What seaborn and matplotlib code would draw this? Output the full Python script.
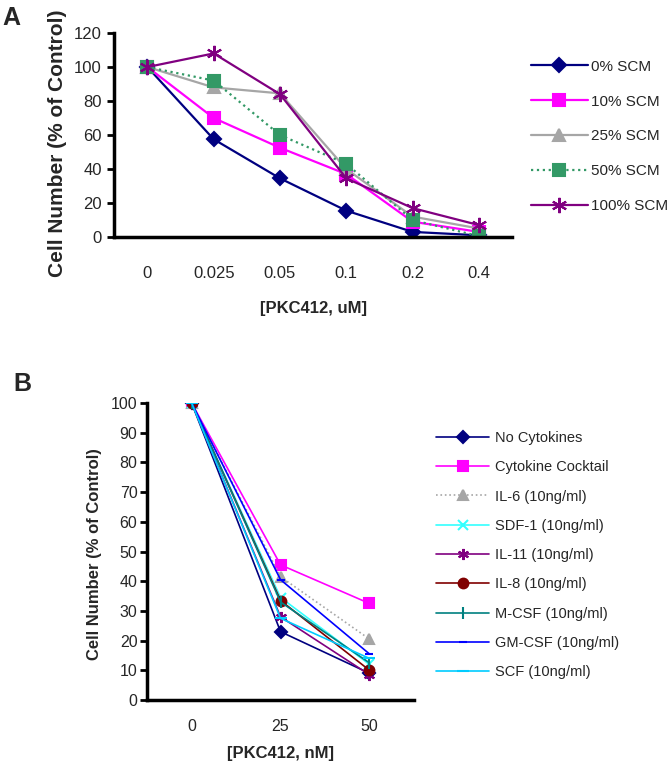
import matplotlib
matplotlib.use("Agg")
import matplotlib.pyplot as plt
import pandas as pd
import seaborn as sns
from matplotlib.lines import Line2D

sns.set_style("white")
plt.rcParams["font.family"] = ["Liberation Sans", "DejaVu Sans"]

# panel A data
doses_a = ["0", "0.025", "0.05", "0.1", "0.2", "0.4"]
series_a = ["0% SCM", "10% SCM", "25% SCM", "50% SCM", "100% SCM"]
scm_0 = [100, 57.5, 34.5, 15.5, 3, 1]
scm_10 = [100, 70, 52.5, 37, 9, 3]
scm_25 = [100, 88, 84.5, 40, 12, 5]
scm_50 = [100, 92, 60, 43, 10, 0.5]
scm_100 = [100, 108, 84, 34.5, 17, 7]
values_a = [scm_0, scm_10, scm_25, scm_50, scm_100]
colors_a = ["#000080", "#FF00FF", "#A6A6A6", "#339966", "#800080"]
markers_a = ["D", "s", "^", "s", (6, 2, 0)]
sizes_a = [7, 8, 8, 9, 11]
styles_a = ["-", "-", "-", ":", "-"]

# panel B data
doses_b = ["0", "25", "50"]
series_b = ["No Cytokines", "Cytokine Cocktail", "IL-6 (10ng/ml)",
            "SDF-1 (10ng/ml)", "IL-11 (10ng/ml)", "IL-8 (10ng/ml)",
            "M-CSF (10ng/ml)", "GM-CSF (10ng/ml)", "SCF (10ng/ml)"]
no_cyt = [100, 23, 9]
cocktail = [100, 45.5, 32.5]
il6 = [100, 41.5, 20.5]
sdf1 = [100, 34.5, 12]
il11 = [100, 28, 8.5]
il8 = [100, 33.5, 10]
mcsf = [100, 33, 12.5]
gmcsf = [100, 40.5, 15.5]
scf = [100, 27.5, 14]
values_b = [no_cyt, cocktail, il6, sdf1, il11, il8, mcsf, gmcsf, scf]
colors_b = ["#000080", "#FF00FF", "#A6A6A6", "#33FFFF", "#800080",
            "#800000", "#008080", "#0000FF", "#00CCFF"]
markers_b = ["D", "s", "^", "x", (6, 2, 0), "o", "|", "_", "_"]
sizes_b = [6, 7, 7, 7, 8, 7, 9, 6, 8]
styles_b = ["-", "-", ":", "-", "-", "-", "-", "-", "-"]


def long_table(doses, names, values):
    rows = []
    for name, vals in zip(names, values):
        for d, v in zip(doses, vals):
            rows.append({"dose": d, "series": name, "value": v})
    return pd.DataFrame(rows)


def draw_panel(ax, doses, names, values, colors, markers, sizes, styles, lw):
    df = long_table(doses, names, values)
    for name, c, m, ms, ls in zip(names, colors, markers, sizes, styles):
        sub = df[df["series"] == name]
        sns.lineplot(data=sub, x="dose", y="value", ax=ax, color=c,
                     marker=m, markersize=ms, linestyle=ls, linewidth=lw,
                     markeredgecolor=c, markeredgewidth=1.5, sort=False,
                     legend=False)
    n = len(doses)
    ax.set_xlim(-0.5, n - 0.5)
    ax.set_xticks(range(n))
    ax.set_xticklabels(doses)
    ax.set_xticks([i + 0.5 for i in range(n)], minor=True)
    ax.tick_params(axis="x", which="major", length=0)
    ax.tick_params(axis="x", which="minor", length=6, width=2.5,
                   direction="out", color="black")
    ax.tick_params(axis="y", length=5, width=2, direction="out",
                   color="black", left=True)
    for s in ["top", "right"]:
        ax.spines[s].set_visible(False)
    for s in ["left", "bottom"]:
        ax.spines[s].set_linewidth(2.5)
        ax.spines[s].set_color("black")
    handles = [Line2D([], [], color=c, marker=m, markersize=ms, linestyle=ls,
                      linewidth=lw, markeredgecolor=c, markeredgewidth=1.5)
               for c, m, ms, ls in zip(colors, markers, sizes, styles)]
    return handles


fig = plt.figure(figsize=(6.72, 7.68), dpi=100)

ax_a = fig.add_axes([0.170, 0.6914, 0.592, 0.2656])
h_a = draw_panel(ax_a, doses_a, series_a, values_a, colors_a, markers_a,
                 sizes_a, styles_a, 1.6)
ax_a.set_ylim(0, 120)
ax_a.set_yticks(range(0, 121, 20))
ax_a.tick_params(axis="both", labelsize=12)
ax_a.tick_params(axis="y", pad=4)
ax_a.tick_params(axis="x", pad=21)
ax_a.set_xlabel("[PKC412, uM]", fontsize=12, fontweight="bold")
ax_a.xaxis.set_label_coords(0.5, -0.315)
ax_a.set_ylabel("Cell Number (% of Control)", fontsize=15, fontweight="bold")
ax_a.yaxis.set_label_coords(-0.118, 0.46)
fig.legend(h_a, series_a, loc="upper left", bbox_to_anchor=(0.770, 0.940),
           frameon=False, fontsize=11, handlelength=3.7,
           handletextpad=0.2, labelspacing=1.36)

ax_b = fig.add_axes([0.219, 0.0885, 0.397, 0.3868])
h_b = draw_panel(ax_b, doses_b, series_b, values_b, colors_b, markers_b,
                 sizes_b, styles_b, 1.2)
ax_b.set_ylim(0, 100)
ax_b.set_yticks(range(0, 101, 10))
ax_b.tick_params(axis="both", labelsize=11.5)
ax_b.tick_params(axis="y", pad=2)
ax_b.tick_params(axis="x", pad=14)
ax_b.set_xlabel("[PKC412, nM]", fontsize=12, fontweight="bold")
ax_b.xaxis.set_label_coords(0.5, -0.155)
ax_b.set_ylabel("Cell Number (% of Control)", fontsize=12, fontweight="bold")
ax_b.yaxis.set_label_coords(-0.17, 0.49)
fig.legend(h_b, series_b, loc="upper left", bbox_to_anchor=(0.630, 0.456),
           frameon=False, fontsize=10.5, handlelength=3.6,
           handletextpad=0.4, labelspacing=1.05)

fig.text(0.004, 0.992, "A", fontsize=18, fontweight="bold", va="top")
fig.text(0.020, 0.515, "B", fontsize=18, fontweight="bold", va="top")

fig.savefig("out.png", dpi=100)
